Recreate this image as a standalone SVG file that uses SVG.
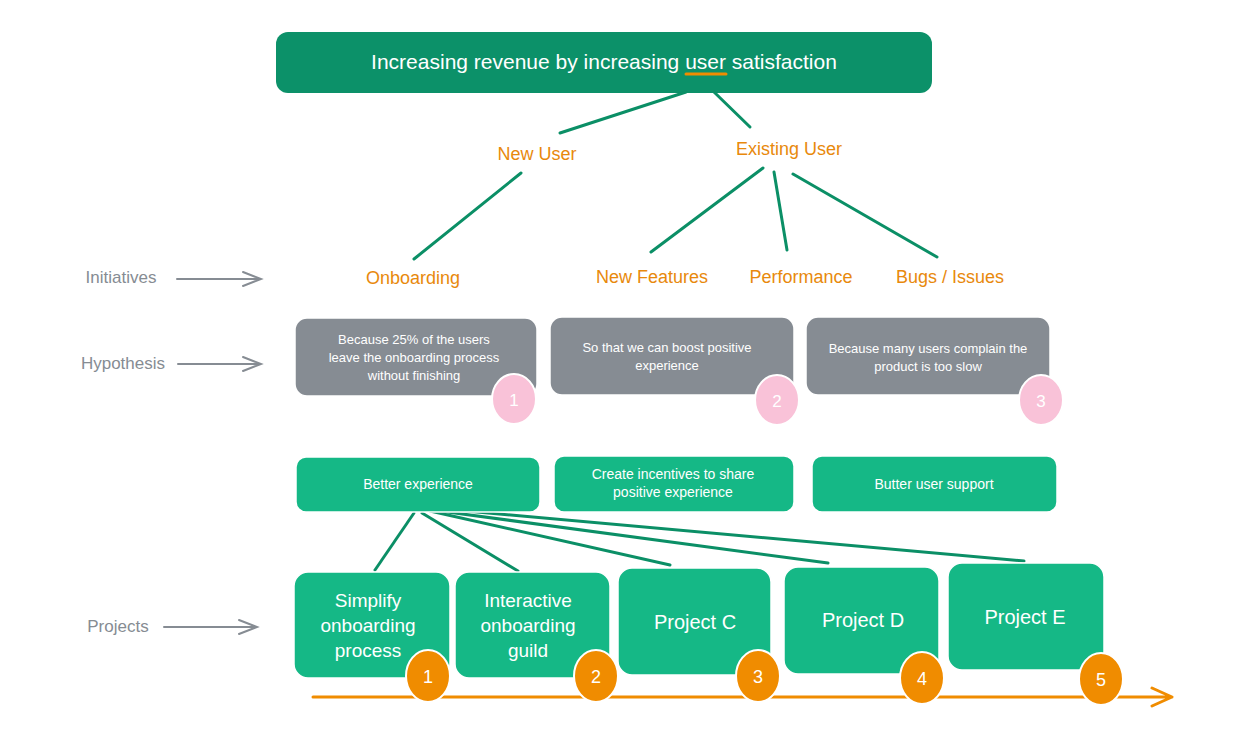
<svg xmlns="http://www.w3.org/2000/svg" width="1242" height="746" viewBox="0 0 1242 746">
<defs>
<style>
text{font-family:"Liberation Sans","DejaVu Sans",sans-serif;text-anchor:middle}
.w{fill:#fff}
.o{fill:#e8890c;font-size:18px}
.g{fill:#868c93;font-size:17px}
.hyp{fill:#868c93;stroke:#fff;stroke-width:1.5}
.ini{fill:#15b886;stroke:#fff;stroke-width:1.5}
.pink{fill:#f9c2d8;stroke:#fff;stroke-width:2}
.orc{fill:#f08c00;stroke:#fff;stroke-width:2}
.con{stroke:#0b8f66;stroke-width:3;fill:none;stroke-linecap:round}
.ga{stroke:#868c93;stroke-width:2;fill:none;stroke-linecap:round}
</style>
</defs>
<rect width="1242" height="746" fill="#fff"/>

<g id="goal">
<rect x="276" y="32" width="656" height="61" rx="12" fill="#0c9169"/>
<text x="604" y="69" class="w" font-size="21">Increasing revenue by increasing user satisfaction</text>
<line x1="686" y1="74" x2="726" y2="74" stroke="#f08c00" stroke-width="3" stroke-linecap="round"/>
</g>

<g id="connectors">
<line class="con" x1="686" y1="92" x2="560" y2="133"/>
<line class="con" x1="714" y1="92" x2="750" y2="127"/>
<line class="con" x1="521" y1="173" x2="414" y2="259"/>
<line class="con" x1="763" y1="168" x2="651" y2="252"/>
<line class="con" x1="774" y1="172" x2="787" y2="250"/>
<line class="con" x1="793" y1="174" x2="937" y2="257"/>
<line class="con" x1="414" y1="513" x2="375" y2="570"/>
<line class="con" x1="422" y1="513" x2="518" y2="571"/>
<line class="con" x1="430" y1="511" x2="670" y2="565"/>
<line class="con" x1="440" y1="511" x2="828" y2="563"/>
<line class="con" x1="455" y1="510" x2="1024" y2="561"/>
</g>

<g id="user-types">
<text x="537" y="160" class="o">New User</text>
<text x="789" y="155" class="o">Existing User</text>
</g>

<g id="initiatives">
<text x="413" y="284" class="o">Onboarding</text>
<text x="652" y="283" class="o">New Features</text>
<text x="801" y="283" class="o">Performance</text>
<text x="950" y="283" class="o">Bugs / Issues</text>
</g>

<g id="labels">
<text x="121" y="283" class="g">Initiatives</text>
<path class="ga" d="M177 279 H261 M243 272 L261 279 L243 286"/>
<text x="123" y="369" class="g">Hypothesis</text>
<path class="ga" d="M178 364 H261 M243 357 L261 364 L243 371"/>
<text x="118" y="632" class="g">Projects</text>
<path class="ga" d="M164 627 H257 M239 620 L257 627 L239 634"/>
</g>

<g id="hypothesis-1">
<rect class="hyp" x="295" y="318" width="242" height="78" rx="12"/>
<text x="414" y="344" class="w" font-size="13">Because 25% of the users</text>
<text x="414" y="362" class="w" font-size="13">leave the onboarding process</text>
<text x="414" y="380" class="w" font-size="13">without finishing</text>
<ellipse class="pink" cx="514" cy="399" rx="22" ry="25"/>
<text x="514" y="406" class="w" font-size="17">1</text>
</g>
<g id="hypothesis-2">
<rect class="hyp" x="550" y="317" width="244" height="78" rx="12"/>
<text x="667" y="352" class="w" font-size="13">So that we can boost positive</text>
<text x="667" y="370" class="w" font-size="13">experience</text>
<ellipse class="pink" cx="777" cy="400" rx="22" ry="25"/>
<text x="777" y="407" class="w" font-size="17">2</text>
</g>
<g id="hypothesis-3">
<rect class="hyp" x="806" y="317" width="244" height="78" rx="12"/>
<text x="928" y="353" class="w" font-size="13">Because many users complain the</text>
<text x="928" y="371" class="w" font-size="13">product is too slow</text>
<ellipse class="pink" cx="1041" cy="400" rx="22" ry="25"/>
<text x="1041" y="407" class="w" font-size="17">3</text>
</g>

<g id="objective-1">
<rect class="ini" x="296" y="457" width="244" height="55" rx="10"/>
<text x="418" y="489" class="w" font-size="14">Better experience</text>
</g>
<g id="objective-2">
<rect class="ini" x="554" y="456" width="240" height="56" rx="10"/>
<text x="673" y="479" class="w" font-size="14">Create incentives to share</text>
<text x="673" y="497" class="w" font-size="14">positive experience</text>
</g>
<g id="objective-3">
<rect class="ini" x="812" y="456" width="245" height="56" rx="10"/>
<text x="934" y="489" class="w" font-size="14">Butter user support</text>
</g>

<g id="timeline">
<path d="M313 697 H1172 M1152 688 L1172 697 L1152 706" stroke="#f08c00" stroke-width="3" fill="none" stroke-linecap="round" stroke-linejoin="round"/>
</g>

<g id="project-1">
<rect class="ini" x="294" y="572" width="156" height="106" rx="14"/>
<text x="368" y="607" class="w" font-size="19">Simplify</text>
<text x="368" y="632" class="w" font-size="19">onboarding</text>
<text x="368" y="657" class="w" font-size="19">process</text>
<ellipse class="orc" cx="428" cy="676" rx="22" ry="26"/>
<text x="428" y="683" class="w" font-size="18">1</text>
</g>
<g id="project-2">
<rect class="ini" x="455" y="572" width="155" height="106" rx="14"/>
<text x="528" y="607" class="w" font-size="19">Interactive</text>
<text x="528" y="632" class="w" font-size="19">onboarding</text>
<text x="528" y="657" class="w" font-size="19">guild</text>
<ellipse class="orc" cx="596" cy="676" rx="22" ry="26"/>
<text x="596" y="683" class="w" font-size="18">2</text>
</g>
<g id="project-3">
<rect class="ini" x="618" y="568" width="153" height="107" rx="14"/>
<text x="695" y="629" class="w" font-size="20">Project C</text>
<ellipse class="orc" cx="758" cy="676" rx="22" ry="26"/>
<text x="758" y="683" class="w" font-size="18">3</text>
</g>
<g id="project-4">
<rect class="ini" x="784" y="567" width="155" height="107" rx="14"/>
<text x="863" y="627" class="w" font-size="20">Project D</text>
<ellipse class="orc" cx="922" cy="678" rx="22" ry="26"/>
<text x="922" y="685" class="w" font-size="18">4</text>
</g>
<g id="project-5">
<rect class="ini" x="948" y="563" width="156" height="107" rx="14"/>
<text x="1025" y="624" class="w" font-size="20">Project E</text>
<ellipse class="orc" cx="1101" cy="679" rx="22" ry="26"/>
<text x="1101" y="686" class="w" font-size="18">5</text>
</g>
</svg>
